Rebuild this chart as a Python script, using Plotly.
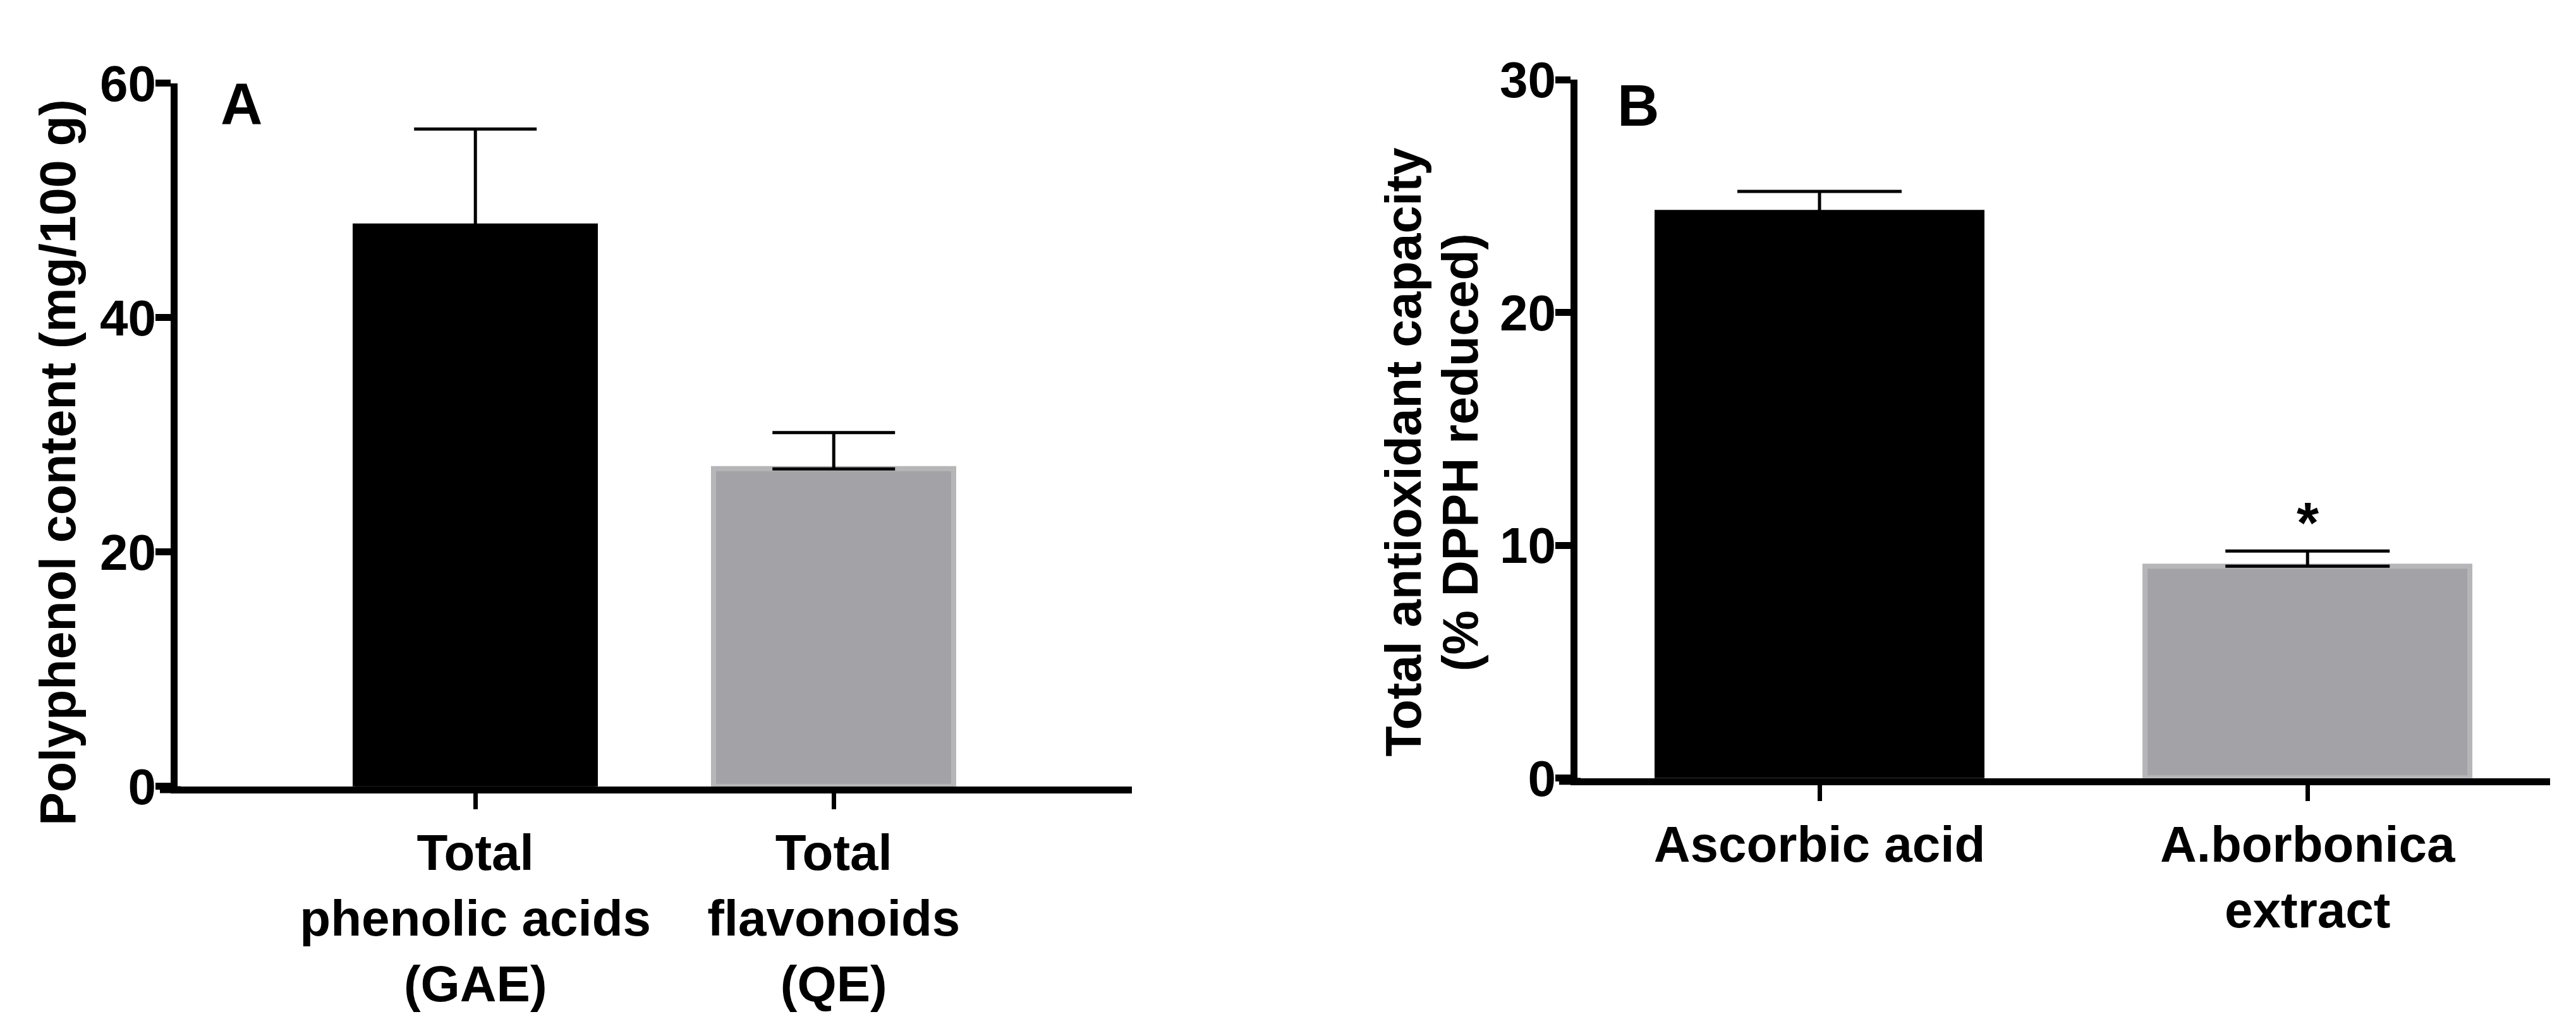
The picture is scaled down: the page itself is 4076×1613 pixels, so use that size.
import plotly.graph_objects as go

W, H = 4076, 1613

# ---------------- data ----------------
cats_a = ["Total<br>phenolic acids<br>(GAE)", "Total<br>flavonoids<br>(QE)"]
vals_a = [47.8, 27.1]
err_a = [8.3, 3.1]

cats_b = ["Ascorbic acid", "A.borbonica<br>extract"]
vals_b = [24.3, 9.1]
err_b = [0.9, 0.65]

yticks_a = [0, 20, 40, 60]
yticks_b = [0, 10, 20, 30]

bar_colors = ["#000000", "#a3a2a7"]
bar_lines = ["#000000", "#b6b6b8"]

FONT = "Liberation Sans, Arial, Helvetica, sans-serif"


def px_x(p):
    return p / W


def px_y(p):
    return 1 - p / H


fig = go.Figure()

fig.add_trace(go.Bar(
    x=cats_a, y=vals_a, xaxis="x", yaxis="y",
    marker=dict(color=bar_colors, line=dict(color=bar_lines, width=8)),
    width=0.67,
    error_y=dict(type="data", symmetric=False, array=err_a, arrayminus=[0, 0],
                 color="black", thickness=5, width=97),
    showlegend=False,
))

fig.add_trace(go.Bar(
    x=cats_b, y=vals_b, xaxis="x2", yaxis="y2",
    marker=dict(color=bar_colors, line=dict(color=bar_lines, width=8)),
    width=0.665,
    error_y=dict(type="data", symmetric=False, array=err_b, arrayminus=[0, 0],
                 color="black", thickness=5, width=130),
    showlegend=False,
))

tickfont = dict(family=FONT, size=80, color="black", weight="bold")

common_x = dict(type="category", showgrid=False, zeroline=False, showline=True,
                linecolor="black", linewidth=11, ticks="outside", ticklen=25,
                tickwidth=7, tickcolor="black", tickfont=tickfont)
common_y = dict(showgrid=False, zeroline=False, showline=True, linecolor="black",
                linewidth=11, ticks="outside", ticklen=24, tickwidth=11,
                tickcolor="black", tickfont=tickfont, ticklabelstandoff=-17)

fig.update_layout(
    width=W, height=H,
    margin=dict(l=0, r=0, t=0, b=0),
    paper_bgcolor="white", plot_bgcolor="white",
    bargap=0,
    xaxis=dict(domain=[px_x(281), px_x(1791)], anchor="y",
               range=[-0.831, 1.832], **common_x),
    yaxis=dict(domain=[px_y(1271), px_y(93)], anchor="x", range=[0, 60],
               tickvals=yticks_a, **common_y),
    xaxis2=dict(domain=[px_x(2496), px_x(4035)], anchor="y2",
                range=[-0.496, 1.497], **common_x),
    yaxis2=dict(domain=[px_y(1257), px_y(87)], anchor="x2", range=[0, 30],
                tickvals=yticks_b, **common_y),
)

ann_font = dict(family=FONT, color="black", weight="bold")

annotations = [
    dict(text="Polyphenol content (mg/100 g)", x=px_x(92), y=px_y(728),
         textangle=-90, font=dict(size=79, **ann_font)),
    dict(text="Total antioxidant capacity", x=px_x(2221), y=px_y(711),
         textangle=-90, font=dict(size=79, **ann_font)),
    dict(text="(% DPPH reduced)", x=px_x(2311), y=px_y(711),
         textangle=-90, font=dict(size=79, **ann_font)),
    dict(text="A", x=px_x(382), y=px_y(127), font=dict(size=92, **ann_font)),
    dict(text="B", x=px_x(2592), y=px_y(130), font=dict(size=92, **ann_font)),
    dict(text="*", x=cats_b[1], xref="x2", y=px_y(830), yref="paper",
         font=dict(size=90, **ann_font)),
]
for a in annotations:
    a.setdefault("xref", "paper")
    a.setdefault("yref", "paper")
    a.update(showarrow=False, xanchor="center", yanchor="middle")
fig.update_layout(annotations=annotations)

# GraphPad-style: x-axis line extends left to the end of the y ticks
fig.add_shape(type="line", xref="paper", yref="paper",
              x0=px_x(253), x1=px_x(286), y0=px_y(1276.5), y1=px_y(1276.5),
              line=dict(color="black", width=11))
fig.add_shape(type="line", xref="paper", yref="paper",
              x0=px_x(2467), x1=px_x(2501), y0=px_y(1262.5), y1=px_y(1262.5),
              line=dict(color="black", width=11))

fig.write_html("out.html")
